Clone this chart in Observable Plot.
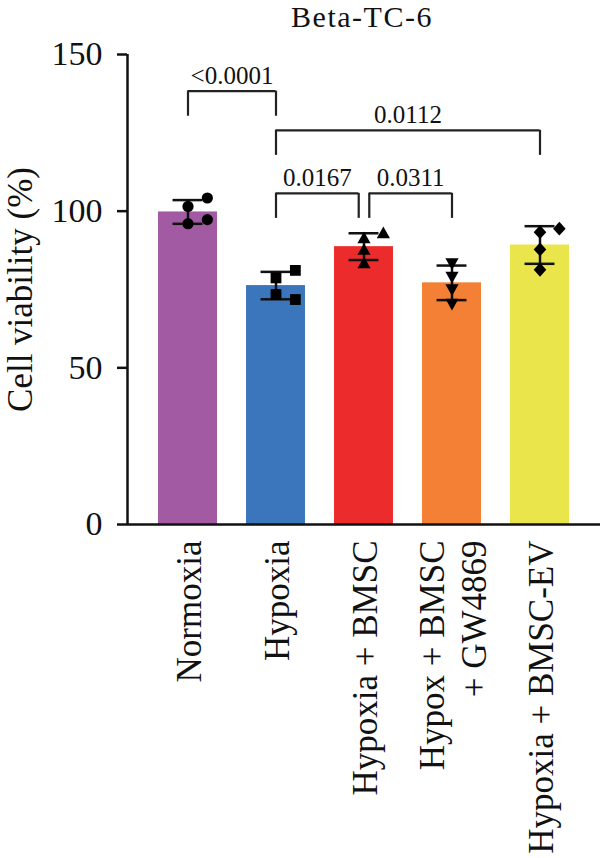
<!DOCTYPE html>
<html><head><meta charset="utf-8">
<script src="https://cdn.jsdelivr.net/npm/d3@7"></script>
<script src="https://cdn.jsdelivr.net/npm/@observablehq/plot@0.6"></script>
<style>
body{margin:0;background:#fff;}
#title{width:600px;height:33px;box-sizing:border-box;padding-left:124px;text-align:center;font-family:"Liberation Serif",serif;font-size:30px;letter-spacing:1.5px;line-height:33px;color:#111;white-space:nowrap;}
</style></head><body>
<div id="title">Beta-TC-6</div>
<div id="chart"></div>
<script>
// ---- data ----
const categories = ["Normoxia", "Hypoxia", "Hypoxia + BMSC", "Hypox + BMSC\n+ GW4869", "Hypoxia + BMSC-EV"];
const normoxia      = [101.5, 104.2, 96.0, 97.3];
const hypoxia       = [78.7, 81.1, 73.4, 71.8];
const hypoxiaBMSC   = [91.2, 92.8, 87.5, 83.2];
const hypoxBMSCGW   = [83.5, 79.2, 75.2, 70.6];
const hypoxiaBMSCEV = [93.3, 94.4, 87.8, 81.3];
const barColors = ["#a25aa2", "#3b76bc", "#ec2c2c", "#f38034", "#e9e54b"];
const yTicks = [0, 50, 100, 150];
const yLabel = "Cell viability (%)";
const compFrom   = ["Normoxia", "Hypoxia", "Hypoxia", "Hypoxia + BMSC"];
const compTo     = ["Hypoxia", "Hypoxia + BMSC-EV", "Hypoxia + BMSC", "Hypox + BMSC\n+ GW4869"];
const compLevel  = [138.3, 125.8, 105.7, 105.7];
const compLabels = ["<0.0001", "0.0112", "0.0167", "0.0311"];

// ---- derived tables ----
const replicates = [normoxia, hypoxia, hypoxiaBMSC, hypoxBMSCGW, hypoxiaBMSCEV];
const stats = replicates.map((vals, i) => ({
  i, name: categories[i], color: barColors[i],
  mean: d3.mean(vals), sd: d3.deviation(vals)
}));

// simple scatter spreading: points closer than `thr` in value go to side slots
const thr = 3.5, slotWidth = 0.22;
const points = [];
replicates.forEach((vals, i) => {
  const placed = [];
  vals.forEach(v => {
    for (const s of [0, 1, -1, 2, -2]) {
      if (!placed.some(p => p.slot === s && Math.abs(p.v - v) < thr)) {
        placed.push({i, v, slot: s});
        break;
      }
    }
  });
  points.push(...placed);
});

const gap = 0.06, leg = 8;
const brackets = compFrom.map((f, k) => {
  const a = categories.indexOf(f), b = categories.indexOf(compTo[k]);
  return {a, b, level: compLevel[k], label: compLabels[k]};
}).map((br, k, all) => {
  const leftShared = all.some((o, j) => j !== k && o.level === br.level && o.b === br.a);
  const rightShared = all.some((o, j) => j !== k && o.level === br.level && o.a === br.b);
  return {...br, x1: br.a + (leftShared ? gap : 0), x2: br.b - (rightShared ? gap : 0)};
});

// ---- symbols ----
const sym = (pts) => ({
  draw(ctx, size) {
    const r = Math.sqrt(size / Math.PI);
    ctx.moveTo(pts[0][0] * r, pts[0][1] * r);
    for (let k = 1; k < pts.length; ++k) ctx.lineTo(pts[k][0] * r, pts[k][1] * r);
    ctx.closePath();
  }
});
const symbols = [
  "circle",
  sym([[-0.9, -0.9], [0.9, -0.9], [0.9, 0.9], [-0.9, 0.9]]),
  sym([[0, -1.2], [1.1, 0.75], [-1.1, 0.75]]),
  sym([[0, 1.2], [1.1, -0.75], [-1.1, -0.75]]),
  sym([[0, -1.15], [1.05, 0], [0, 1.15], [-1.05, 0]])
];
const symR = [5.6, 6, 6, 6, 6];

const xDomain = [-0.6875, 4.6875];
const barHalf = 0.335, capHalf = 0.17;
const ink = "#111";
const font = '"Liberation Serif", serif';

const marks = [
  Plot.rectY(stats, {x1: d => d.i - barHalf, x2: d => d.i + barHalf, y1: 0, y2: "mean", fill: "color"}),
  Plot.ruleX(stats, {x: "i", y1: d => d.mean - d.sd, y2: d => d.mean + d.sd, stroke: ink, strokeWidth: 2.5}),
  Plot.ruleY(stats, {y: d => d.mean + d.sd, x1: d => d.i - capHalf, x2: d => d.i + capHalf, stroke: ink, strokeWidth: 2.5}),
  Plot.ruleY(stats, {y: d => d.mean - d.sd, x1: d => d.i - capHalf, x2: d => d.i + capHalf, stroke: ink, strokeWidth: 2.5}),
];
stats.forEach((s, i) => {
  marks.push(Plot.dot(points.filter(p => p.i === i), {
    x: p => p.i + p.slot * slotWidth, y: "v", symbol: symbols[i], r: symR[i], fill: "#000", stroke: "none"
  }));
});
marks.push(
  // axes
  Plot.ruleY([0], {stroke: ink, strokeWidth: 2.5}),
  Plot.ruleX([xDomain[0]], {y1: 0, y2: 150, stroke: ink, strokeWidth: 2.5}),
  Plot.axisY(yTicks, {tickSize: 10, tickPadding: 15, fontSize: 34, strokeWidth: 2.5, stroke: ink, fill: ink, label: null}),
  Plot.text(categories, {x: (d, i) => i, y: 0, text: d => d, rotate: -90, textAnchor: "end", lineAnchor: "middle",
    lineHeight: 1.2, dy: 16, fontSize: 35, fill: ink}),
  Plot.text([yLabel], {frameAnchor: "left", text: d => d, rotate: -90, textAnchor: "middle", lineAnchor: "top",
    dx: -120.5, fontSize: 35, fill: ink}),
  // significance brackets
  Plot.ruleY(brackets, {y: "level", x1: "x1", x2: "x2", stroke: "#222", strokeWidth: 2.2}),
  Plot.ruleX(brackets, {x: "x1", y1: "level", y2: d => d.level - leg, stroke: "#222", strokeWidth: 2.2}),
  Plot.ruleX(brackets, {x: "x2", y1: "level", y2: d => d.level - leg, stroke: "#222", strokeWidth: 2.2}),
  Plot.text(brackets, {x: d => (d.x1 + d.x2) / 2, y: "level", text: "label", lineAnchor: "bottom", dy: -7,
    fontSize: 25, fill: ink})
);

const chart = Plot.plot({
  width: 600, height: 825,
  marginTop: 21, marginBottom: 334, marginLeft: 127, marginRight: 0,
  x: {domain: xDomain, axis: null},
  y: {domain: [0, 150], axis: null},
  color: {type: "identity"},
  style: {fontFamily: font, background: "transparent", color: ink},
  marks
});
document.getElementById("chart").appendChild(chart);
</script>
</body></html>
